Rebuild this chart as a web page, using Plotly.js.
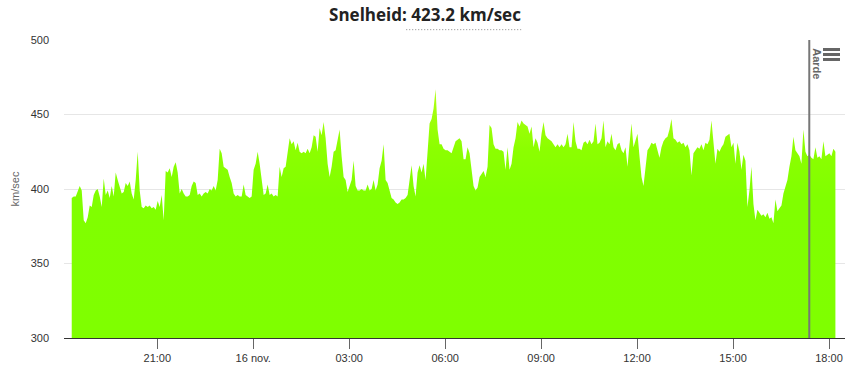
<!DOCTYPE html>
<html>
<head>
<meta charset="utf-8">
<script src="https://cdn.plot.ly/plotly-3.0.1.min.js"></script>
<style>
html,body{margin:0;padding:0;background:#fff;}
#chart{width:850px;height:368px;}
</style>
</head>
<body>
<div id="chart"></div>
<script>
// Solar wind speed (km/sec), regular cadence of 225 s starting at the first sample
var firstSample = '2024-11-15T18:19:30Z';
var cadenceSeconds = 225;

var speedPart1 = [394,395,395,398,402,399,379,377,381,389,388,396,399,400,395,388,407,396,399,394,
402,395,411,406,402,397,398,404,402,405,397,393,406,425,399,388,387,389,388,389,
387,388,386,392,388,396,379,412,411,414,408,415,418,411,397,400,397,395,395,396,
402,405,404,396,397,395,397,398,397,400,399,402,399,406,427,424,415,414,413,408,
404,397,395,396,395,395,403,396,395,394,395,413,417,425,417,406];

var speedPart2 = [396,397,403,396,397,395,396,395,415,408,414,415,426,434,430,432,426,431,425,424,
425,424,427,424,428,436,435,425,441,436,445,434,417,408,415,425,426,432,440,422,
408,406,398,402,406,419,402,399,399,400,399,399,403,399,400,406,399,403,414,419,
430,406,404,399,394,393,391,390,391,393,393,394,396,406,416,402,395,411,416,411,
417,406,428,444,447,454,467,440,430,430,427,426,426,425,424,428];

var speedPart3 = [432,433,434,432,420,420,428,424,411,402,399,401,408,410,412,408,415,443,441,430,
427,427,426,426,425,413,428,413,417,428,434,445,442,446,444,443,442,437,442,428,
434,431,425,437,445,436,434,433,432,430,428,430,428,430,428,430,437,428,428,445,
432,427,427,426,431,432,430,433,430,432,444,430,431,434,446,428,432,430,437,428,
426,430,431,426,424,428,415,430,444,428,432,437];

var speedPart4 = [422,408,402,415,426,428,431,430,431,426,421,428,432,434,435,440,447,434,433,431,
432,430,431,428,430,426,409,424,426,428,427,430,426,431,430,433,446,431,417,427,
425,428,430,435,436,437,428,431,417,431,425,413,423,419,388,399,415,390,379,386,
384,382,383,381,384,380,381,377,393,385,387,389,397,402,406,415,422,435,426,424,
422,417,440,425,422,423,421,420,428,421,422,420,432,422,423,424,422,427,425];

var speed = speedPart1.concat(speedPart2, speedPart3, speedPart4);

// Axis ticks
var tickTimes = ['2024-11-15 21:00','2024-11-16 00:00','2024-11-16 03:00','2024-11-16 06:00',
                 '2024-11-16 09:00','2024-11-16 12:00','2024-11-16 15:00','2024-11-16 18:00'];
var tickLabels = ['21:00','16 nov.','03:00','06:00','09:00','12:00','15:00','18:00'];
var yTicks = [300,350,400,450,500];

// Marked event
var eventTimes = ['2024-11-16 17:23'];
var eventLabels = ['Aarde'];

var titleText = 'Snelheid: 423.2 km/sec';
var yTitle = 'km/sec';

function fmt(ms){
  return new Date(ms).toISOString().replace('T',' ').substring(0,19);
}
var t0 = Date.parse(firstSample);
var times = speed.map(function(v,i){ return fmt(t0 + i*cadenceSeconds*1000); });

var trace = {
  type:'scatter', mode:'lines', x:times, y:speed,
  fill:'tozeroy',
  fillgradient:{type:'vertical', start:300, stop:470,
    colorscale:[[0,'#7fff00'],[0.55,'#80ff00'],[0.75,'#8cff00'],[1,'#b4ff14']]},
  line:{width:0, color:'#80ff00'},
  hoverinfo:'skip', showlegend:false
};

var shapes = [];
var annotations = [];
eventTimes.forEach(function(t,i){
  shapes.push({type:'line', xref:'x', yref:'paper', x0:t, x1:t, y0:0, y1:1,
    line:{color:'#777777', width:2}});
  annotations.push({xref:'x', yref:'paper', x:t, y:1, yanchor:'top', xanchor:'left',
    xshift:0, yshift:-6, text:'<b>'+eventLabels[i]+'</b>', textangle:90, showarrow:false,
    font:{family:'Liberation Sans, Arial, sans-serif', size:11, color:'#666666'}});
});
// menu icon (three bars)
[0,1,2].forEach(function(k){
  shapes.push({type:'rect', xref:'paper', yref:'paper', x0:0.9718, x1:0.9936,
    y0:0.9631-k*0.0168, y1:0.9732-k*0.0168, line:{width:0}, fillcolor:'#666666'});
});

var layout = {
  width:850, height:368,
  margin:{l:64, r:5, t:40, b:30},
  paper_bgcolor:'#ffffff', plot_bgcolor:'#ffffff',
  font:{family:'Liberation Sans, Arial, sans-serif', size:11, color:'#333333'},
  title:{text:'<b>'+titleText+'</b>', x:0.5, xanchor:'center', xref:'container',
    y:0.96, yanchor:'middle', yref:'container',
    font:{family:'Open Sans, Noto Sans, sans-serif', size:17, color:'#222222'}},
  xaxis:{type:'date', range:['2024-11-15 18:05','2024-11-16 18:30'],
    tickmode:'array', tickvals:tickTimes, ticktext:tickLabels,
    ticks:'outside', ticklen:10, tickcolor:'#666666', tickwidth:1,
    showline:true, linecolor:'#333333', linewidth:1,
    showgrid:false, zeroline:false, fixedrange:true,
    tickfont:{size:11, color:'#333333'}},
  yaxis:{range:[300,500], tickmode:'array', tickvals:yTicks,
    showgrid:true, gridcolor:'#e6e6e6', gridwidth:1, zeroline:false,
    showline:false, ticks:'', ticklabelstandoff:14,
    tickfont:{size:11, color:'#333333'},
    title:{text:yTitle, font:{size:11, color:'#666666'}, standoff:8}},
  shapes:shapes, annotations:annotations,
  hovermode:false
};

Plotly.newPlot('chart',[trace],layout,{displayModeBar:false, staticPlot:true}).then(function(gd){
  var tt = gd.querySelector('.gtitle');
  if(tt){
    var bb = tt.getBBox();
    var valueStart = titleText.indexOf(':')+2;
    var tmp = document.createElementNS('http://www.w3.org/2000/svg','text');
    tmp.setAttribute('style', tt.getAttribute('style'));
    tmp.setAttribute('font-weight','bold');
    tmp.textContent = titleText.substring(0,valueStart);
    tt.parentNode.appendChild(tmp);
    var w0 = tmp.getComputedTextLength();
    tmp.parentNode.removeChild(tmp);
    var x0 = bb.x + w0, x1 = bb.x + bb.width;
    var yline = bb.y + bb.height + 4;
    var line = document.createElementNS('http://www.w3.org/2000/svg','line');
    line.setAttribute('x1',x0); line.setAttribute('x2',x1);
    line.setAttribute('y1',yline); line.setAttribute('y2',yline);
    line.setAttribute('stroke','#888'); line.setAttribute('stroke-width','1');
    line.setAttribute('stroke-dasharray','1,2');
    tt.parentNode.appendChild(line);
  }
});
</script>
</body>
</html>
